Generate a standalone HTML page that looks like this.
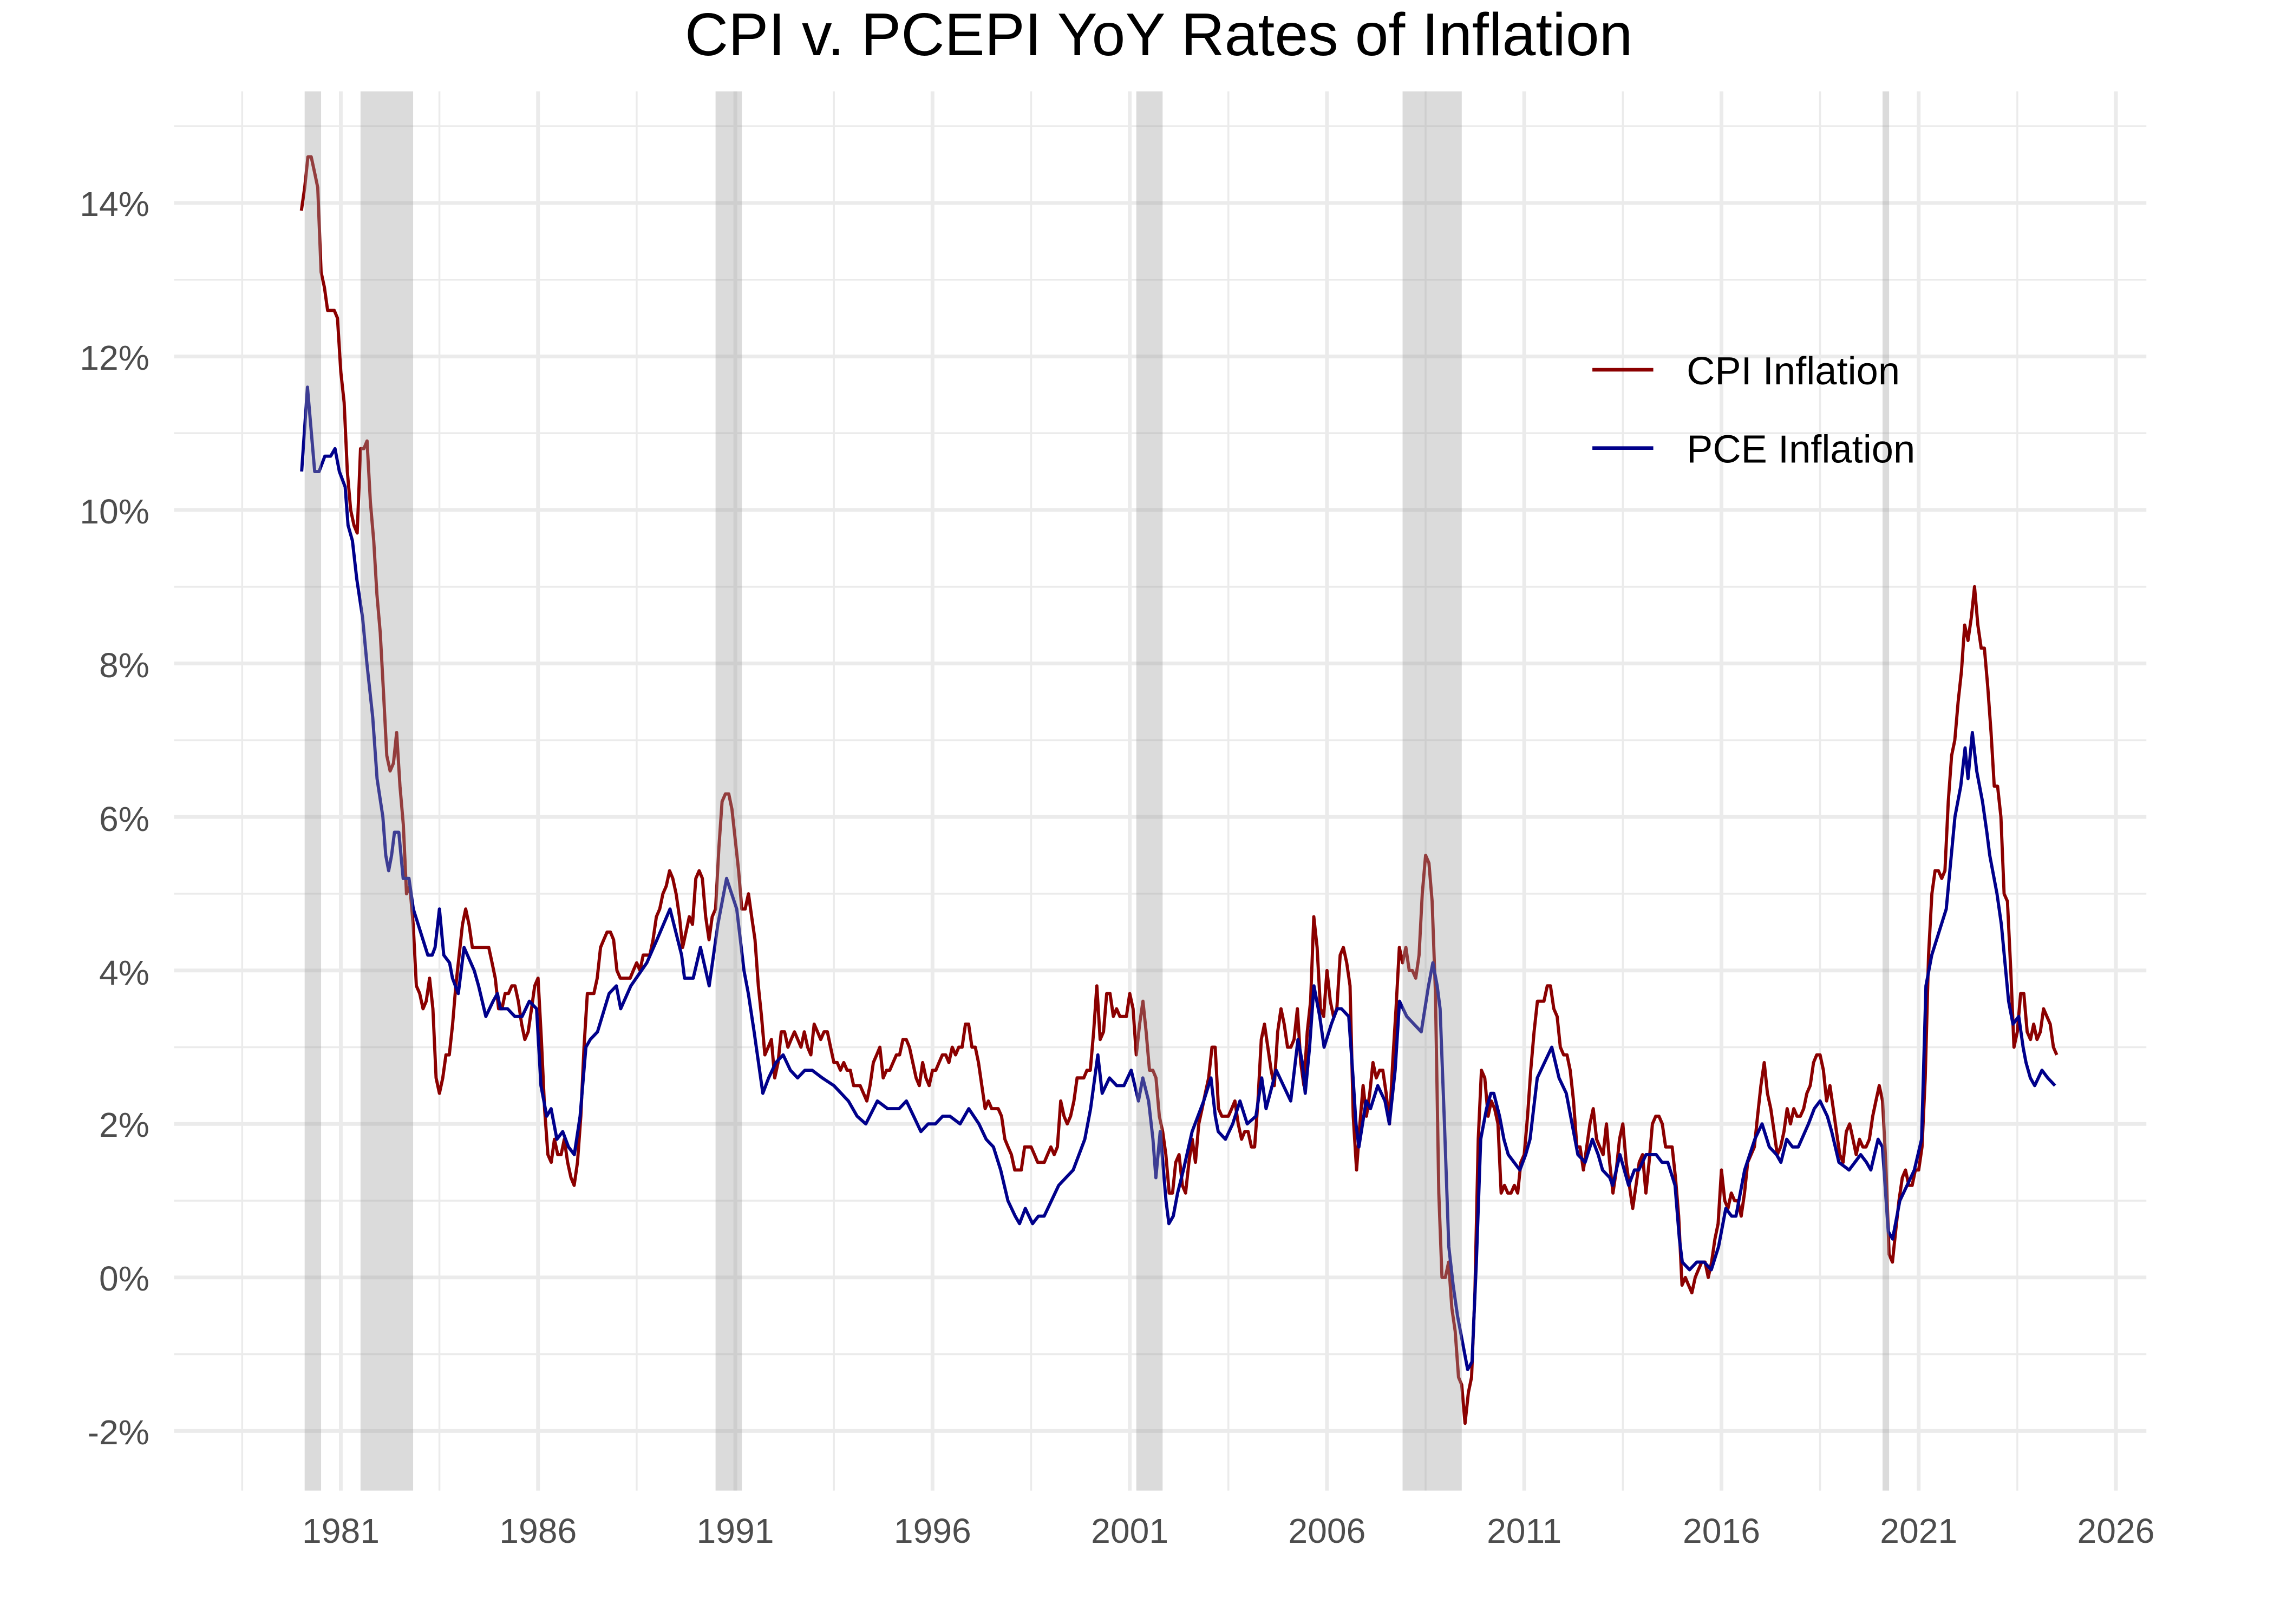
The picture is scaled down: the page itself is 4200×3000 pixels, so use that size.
<!DOCTYPE html>
<html><head><meta charset="utf-8">
<style>html,body{margin:0;padding:0;background:#fff}svg{display:block}</style>
</head><body>
<svg id="c" xmlns="http://www.w3.org/2000/svg" width="4200" height="3000" viewBox="0 0 1568 1120" font-family="Liberation Sans, Arial, sans-serif">
<rect width="1568" height="1120" fill="#fff"/>
<g id="grid"></g>
<path id="cpi" fill="none" stroke="#8b0000" stroke-width="2.2" stroke-linejoin="round"/>
<path id="pce" fill="none" stroke="#00008b" stroke-width="2.2" stroke-linejoin="round"/>
<g id="rec"></g>
<text x="799" y="38" font-size="41.5" text-anchor="middle" fill="#000">CPI v. PCEPI YoY Rates of Inflation</text>
<g font-size="24" fill="#4d4d4d" text-anchor="end">
<text x="103" y="149">14%</text><text x="103" y="255">12%</text><text x="103" y="361">10%</text>
<text x="103" y="467">8%</text><text x="103" y="573">6%</text><text x="103" y="679">4%</text>
<text x="103" y="784">2%</text><text x="103" y="890">0%</text><text x="103" y="996">-2%</text>
</g>
<g font-size="24" fill="#4d4d4d" text-anchor="middle">
<text x="235" y="1064">1981</text><text x="371" y="1064">1986</text><text x="507" y="1064">1991</text>
<text x="643" y="1064">1996</text><text x="779" y="1064">2001</text><text x="915" y="1064">2006</text>
<text x="1051" y="1064">2011</text><text x="1187" y="1064">2016</text><text x="1323" y="1064">2021</text>
<text x="1459" y="1064">2026</text>
</g>
<line x1="1098" y1="255" x2="1140" y2="255" stroke="#8b0000" stroke-width="2.5"/>
<line x1="1098" y1="309" x2="1140" y2="309" stroke="#00008b" stroke-width="2.5"/>
<text x="1163" y="265" font-size="27" fill="#000">CPI Inflation</text>
<text x="1163" y="319" font-size="27" fill="#000">PCE Inflation</text>
</svg>
<script>
const X=y=>235+27.2*(y-1981), Y=v=>881-v*52.93;
const L=120,R=1480,T=63,B=1028;
let g='';
for(let v=-2;v<=15;v++){const y=Y(v);g+=`<line x1="${L}" x2="${R}" y1="${y}" y2="${y}" stroke="#ebebeb" stroke-width="${v%2==0?2.6:1.3}"/>`;}
for(let yr=1978.5;yr<=2027;yr+=2.5){const x=X(yr);if(x<L||x>R)continue;const maj=Math.abs((yr-1981)%5)<0.01;g+=`<line y1="${T}" y2="${B}" x1="${x}" x2="${x}" stroke="#ebebeb" stroke-width="${maj?2.6:1.3}"/>`;}
document.getElementById('grid').innerHTML=g;
const cpi=[13.9,14.2,14.6,14.6,14.4,14.2,13.1,12.9,12.6,12.6,12.6,12.5,
11.8,11.4,10.5,10.0,9.8,9.7,10.8,10.8,10.9,10.1,9.6,8.9,
8.4,7.6,6.8,6.6,6.7,7.1,6.4,5.9,5.0,5.1,4.6,3.8,
3.7,3.5,3.6,3.9,3.5,2.6,2.4,2.6,2.9,2.9,3.3,3.8,
4.2,4.6,4.8,4.6,4.3,4.3,4.3,4.3,4.3,4.3,4.1,3.9,
3.5,3.5,3.7,3.7,3.8,3.8,3.6,3.3,3.1,3.2,3.5,3.8,
3.9,3.1,2.2,1.6,1.5,1.8,1.6,1.6,1.8,1.5,1.3,1.2,
1.5,2.1,3.0,3.7,3.7,3.7,3.9,4.3,4.4,4.5,4.5,4.4,
4.0,3.9,3.9,3.9,3.9,4.0,4.1,4.0,4.2,4.2,4.2,4.4,
4.7,4.8,5.0,5.1,5.3,5.2,5.0,4.7,4.3,4.5,4.7,4.6,
5.2,5.3,5.2,4.7,4.4,4.7,4.8,5.6,6.2,6.3,6.3,6.1,
5.7,5.3,4.8,4.8,5.0,4.7,4.4,3.8,3.4,2.9,3.0,3.1,
2.6,2.8,3.2,3.2,3.0,3.1,3.2,3.1,3.0,3.2,3.0,2.9,
3.3,3.2,3.1,3.2,3.2,3.0,2.8,2.8,2.7,2.8,2.7,2.7,
2.5,2.5,2.5,2.4,2.3,2.5,2.8,2.9,3.0,2.6,2.7,2.7,
2.8,2.9,2.9,3.1,3.1,3.0,2.8,2.6,2.5,2.8,2.6,2.5,
2.7,2.7,2.8,2.9,2.9,2.8,3.0,2.9,3.0,3.0,3.3,3.3,
3.0,3.0,2.8,2.5,2.2,2.3,2.2,2.2,2.2,2.1,1.8,1.7,
1.6,1.4,1.4,1.4,1.7,1.7,1.7,1.6,1.5,1.5,1.5,1.6,
1.7,1.6,1.7,2.3,2.1,2.0,2.1,2.3,2.6,2.6,2.6,2.7,
2.7,3.2,3.8,3.1,3.2,3.7,3.7,3.4,3.5,3.4,3.4,3.4,
3.7,3.5,2.9,3.3,3.6,3.2,2.7,2.7,2.6,2.1,1.9,1.6,
1.1,1.1,1.5,1.6,1.2,1.1,1.5,1.8,1.5,2.0,2.2,2.4,
2.6,3.0,3.0,2.2,2.1,2.1,2.1,2.2,2.3,2.0,1.8,1.9,
1.9,1.7,1.7,2.3,3.1,3.3,3.0,2.7,2.5,3.2,3.5,3.3,
3.0,3.0,3.1,3.5,2.8,2.5,3.2,3.6,4.7,4.3,3.5,3.4,
4.0,3.6,3.4,3.5,4.2,4.3,4.1,3.8,2.1,1.4,2.0,2.5,
2.1,2.4,2.8,2.6,2.7,2.7,2.4,2.0,2.8,3.5,4.3,4.1,
4.3,4.0,4.0,3.9,4.2,5.0,5.5,5.4,4.9,3.7,1.1,0.0,
0.0,0.2,-0.4,-0.7,-1.3,-1.4,-1.9,-1.5,-1.3,-0.2,1.8,2.7,
2.6,2.1,2.3,2.2,2.0,1.1,1.2,1.1,1.1,1.2,1.1,1.5,
1.6,2.1,2.7,3.2,3.6,3.6,3.6,3.8,3.8,3.5,3.4,3.0,
2.9,2.9,2.7,2.3,1.7,1.7,1.4,1.7,2.0,2.2,1.8,1.7,
1.6,2.0,1.5,1.1,1.4,1.8,2.0,1.5,1.2,0.9,1.2,1.5,
1.6,1.1,1.5,2.0,2.1,2.1,2.0,1.7,1.7,1.7,1.3,0.8,
-0.1,0.0,-0.1,-0.2,0.0,0.1,0.2,0.2,0.0,0.2,0.5,0.7,
1.4,1.0,0.9,1.1,1.0,1.0,0.8,1.1,1.5,1.6,1.7,2.1,
2.5,2.8,2.4,2.2,1.9,1.6,1.7,1.9,2.2,2.0,2.2,2.1,
2.1,2.2,2.4,2.5,2.8,2.9,2.9,2.7,2.3,2.5,2.2,1.9,
1.6,1.5,1.9,2.0,1.8,1.6,1.8,1.7,1.7,1.8,2.1,2.3,
2.5,2.3,1.5,0.3,0.2,0.6,1.0,1.3,1.4,1.2,1.2,1.4,
1.4,1.7,2.6,4.2,5.0,5.3,5.3,5.2,5.3,6.2,6.8,7.0,
7.5,7.9,8.5,8.3,8.6,9.0,8.5,8.2,8.2,7.7,7.1,6.4,
6.4,6.0,5.0,4.9,4.0,3.0,3.2,3.7,3.7,3.2,3.1,3.3,
3.1,3.2,3.5,3.4,3.3,3.0,2.9];
let d='';cpi.forEach((v,i)=>{d+=(i?'L':'M')+X(1980+i/12).toFixed(1)+' '+Y(v).toFixed(1);});
document.getElementById('cpi').setAttribute('d',d);
const pce=[[208,10.5],[212,11.6],[217,10.5],[220,10.5],[224,10.7],[228,10.7],[231,10.8],[234,10.5],[238,10.3],[240,9.8],[243,9.6],[246,9.1],[250,8.6],[253,8.0],[257,7.3],[260,6.5],[264,6.0],[266,5.5],[268,5.3],[270,5.5],[272,5.8],[275,5.8],[278,5.2],[282,5.2],[285,4.8],[290,4.5],[295,4.2],[298,4.2],[300,4.3],[303,4.8],[306,4.2],[310,4.1],[312,3.9],[316,3.7],[320,4.3],[327,4.0],[330,3.8],[335,3.4],[340,3.6],[343,3.7],[345,3.5],[350,3.5],[355,3.4],[360,3.4],[365,3.6],[370,3.5],[373,2.5],[377,2.1],[380,2.2],[384,1.8],[388,1.9],[392,1.7],[396,1.6],[400,2.1],[404,3.0],[407,3.1],[412,3.2],[420,3.7],[425,3.8],[428,3.5],[435,3.8],[446,4.1],[453,4.4],[462,4.8],[470,4.2],[472,3.9],[478,3.9],[483,4.3],[489,3.8],[495,4.6],[501,5.2],[508,4.8],[513,4.0],[516,3.7],[520,3.2],[526,2.4],[530,2.6],[535,2.8],[540,2.9],[545,2.7],[550,2.6],[555,2.7],[560,2.7],[567,2.6],[575,2.5],[585,2.3],[591,2.1],[597,2.0],[605,2.3],[612,2.2],[620,2.2],[625,2.3],[630,2.1],[635,1.9],[640,2.0],[645,2.0],[650,2.1],[655,2.1],[662,2.0],[668,2.2],[675,2.0],[680,1.8],[685,1.7],[690,1.4],[695,1.0],[700,0.8],[703,0.7],[707,0.9],[712,0.7],[716,0.8],[720,0.8],[725,1.0],[730,1.2],[735,1.3],[740,1.4],[748,1.8],[752,2.2],[757,2.9],[760,2.4],[765,2.6],[770,2.5],[775,2.5],[780,2.7],[785,2.3],[788,2.6],[792,2.3],[795,1.8],[797,1.3],[800,1.9],[804,1.0],[806,0.7],[809,0.8],[812,1.1],[816,1.4],[822,1.9],[830,2.3],[835,2.6],[838,2.1],[840,1.9],[845,1.8],[850,2.0],[855,2.3],[860,2.0],[866,2.1],[870,2.6],[873,2.2],[880,2.7],[885,2.5],[890,2.3],[895,3.1],[898,2.8],[900,2.4],[903,3.0],[906,3.8],[910,3.4],[913,3.0],[918,3.3],[922,3.5],[925,3.5],[930,3.4],[933,2.6],[935,2.0],[937,1.7],[942,2.3],[945,2.2],[950,2.5],[955,2.3],[958,2.0],[962,2.7],[965,3.6],[970,3.4],[975,3.3],[980,3.2],[985,3.8],[988,4.1],[991,3.8],[993,3.5],[996,2.0],[999,0.4],[1002,-0.1],[1005,-0.5],[1008,-0.8],[1012,-1.2],[1015,-1.1],[1018,0.2],[1021,1.8],[1025,2.2],[1028,2.4],[1030,2.4],[1034,2.1],[1037,1.8],[1040,1.6],[1044,1.5],[1048,1.4],[1052,1.6],[1055,1.8],[1060,2.6],[1065,2.8],[1070,3.0],[1075,2.6],[1080,2.4],[1084,2.0],[1088,1.6],[1093,1.5],[1098,1.8],[1102,1.6],[1105,1.4],[1110,1.3],[1112,1.2],[1117,1.6],[1120,1.4],[1123,1.2],[1127,1.4],[1130,1.4],[1135,1.6],[1142,1.6],[1146,1.5],[1150,1.5],[1155,1.2],[1158,0.5],[1160,0.2],[1165,0.1],[1170,0.2],[1175,0.2],[1180,0.1],[1185,0.4],[1190,0.9],[1194,0.8],[1197,0.8],[1203,1.4],[1210,1.8],[1215,2.0],[1220,1.7],[1225,1.6],[1228,1.5],[1232,1.8],[1236,1.7],[1240,1.7],[1247,2.0],[1251,2.2],[1255,2.3],[1260,2.1],[1263,1.9],[1268,1.5],[1275,1.4],[1279,1.5],[1283,1.6],[1287,1.5],[1290,1.4],[1295,1.8],[1298,1.7],[1302,0.6],[1305,0.5],[1310,1.0],[1315,1.2],[1320,1.4],[1325,1.8],[1328,3.8],[1332,4.2],[1337,4.5],[1342,4.8],[1348,6.0],[1352,6.4],[1355,6.9],[1357,6.5],[1360,7.1],[1363,6.6],[1367,6.2],[1370,5.8],[1372,5.5],[1377,5.0],[1380,4.6],[1382,4.2],[1385,3.6],[1388,3.3],[1392,3.4],[1395,3.0],[1397,2.8],[1400,2.6],[1403,2.5],[1408,2.7],[1412,2.6],[1417,2.5]];
let p='';pce.forEach((q,i)=>{p+=(i?'L':'M')+q[0]+' '+Y(q[1]).toFixed(1);});
document.getElementById('pce').setAttribute('d',p);
const rec=[[1980+1/12,1980.5],[1981.5,1982+10/12],[1990.5,1991+2/12],[2001+2/12,2001+10/12],[2007+11/12,2009+5/12],[2020+1/12,2020.25]];
let r='';rec.forEach(a=>{const x1=X(a[0]),x2=X(a[1]);r+=`<rect x="${x1}" y="${T}" width="${x2-x1}" height="${B-T}" fill="#a0a0a0" fill-opacity="0.38"/>`;});
document.getElementById('rec').innerHTML=r;
</script>
</body></html>
